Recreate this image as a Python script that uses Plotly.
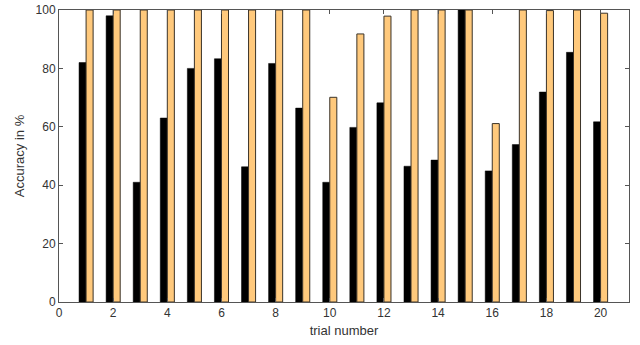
import plotly.graph_objects as go

trials = list(range(1, 21))
black_vals = [82, 98, 41, 63, 80, 83.3, 46.3, 81.7, 66.4, 41, 59.8, 68.2, 46.5, 48.6, 100, 44.9, 53.9, 71.9, 85.5, 61.7]
orange_vals = [100, 100, 100, 100, 100, 100, 100, 100, 100, 70.1, 91.8, 97.9, 100, 100, 100, 61.1, 100, 99.8, 100, 98.9]

FONT = "Liberation Sans, Arial, sans-serif"

fig = go.Figure()
fig.add_trace(go.Bar(x=trials, y=black_vals, marker=dict(color="black", line=dict(color="black", width=0.5)), name="A"))
fig.add_trace(go.Bar(x=trials, y=orange_vals, marker=dict(color="#FFC97C", line=dict(color="#3a3228", width=1)), name="B"))

axis_common = dict(showline=True, linecolor="#555555", linewidth=1, mirror="ticks", automargin=False,
                   ticks="inside", ticklen=4, tickcolor="#555555", showgrid=False, zeroline=False,
                   tickfont=dict(family=FONT, size=12, color="#333333"))

fig.update_layout(
    width=640, height=345,
    margin=dict(l=59, r=11, t=10, b=43),
    plot_bgcolor="white", paper_bgcolor="white",
    barmode="group", bargap=0.48, bargroupgap=0,
    showlegend=False,
    xaxis=dict(range=[0, 21.05], tickvals=list(range(0, 21, 2)),
               title=dict(text="trial number", standoff=6, font=dict(family=FONT, size=13, color="#333333")),
               **axis_common),
    yaxis=dict(range=[0, 100], tickvals=[0, 20, 40, 60, 80, 100],
               title=dict(text="Accuracy in %", standoff=8, font=dict(family=FONT, size=13, color="#333333")),
               **axis_common),
)

fig.write_html("out.html", config={"displayModeBar": False},
               post_script="document.body.style.margin='0';document.body.style.overflow='hidden';")
